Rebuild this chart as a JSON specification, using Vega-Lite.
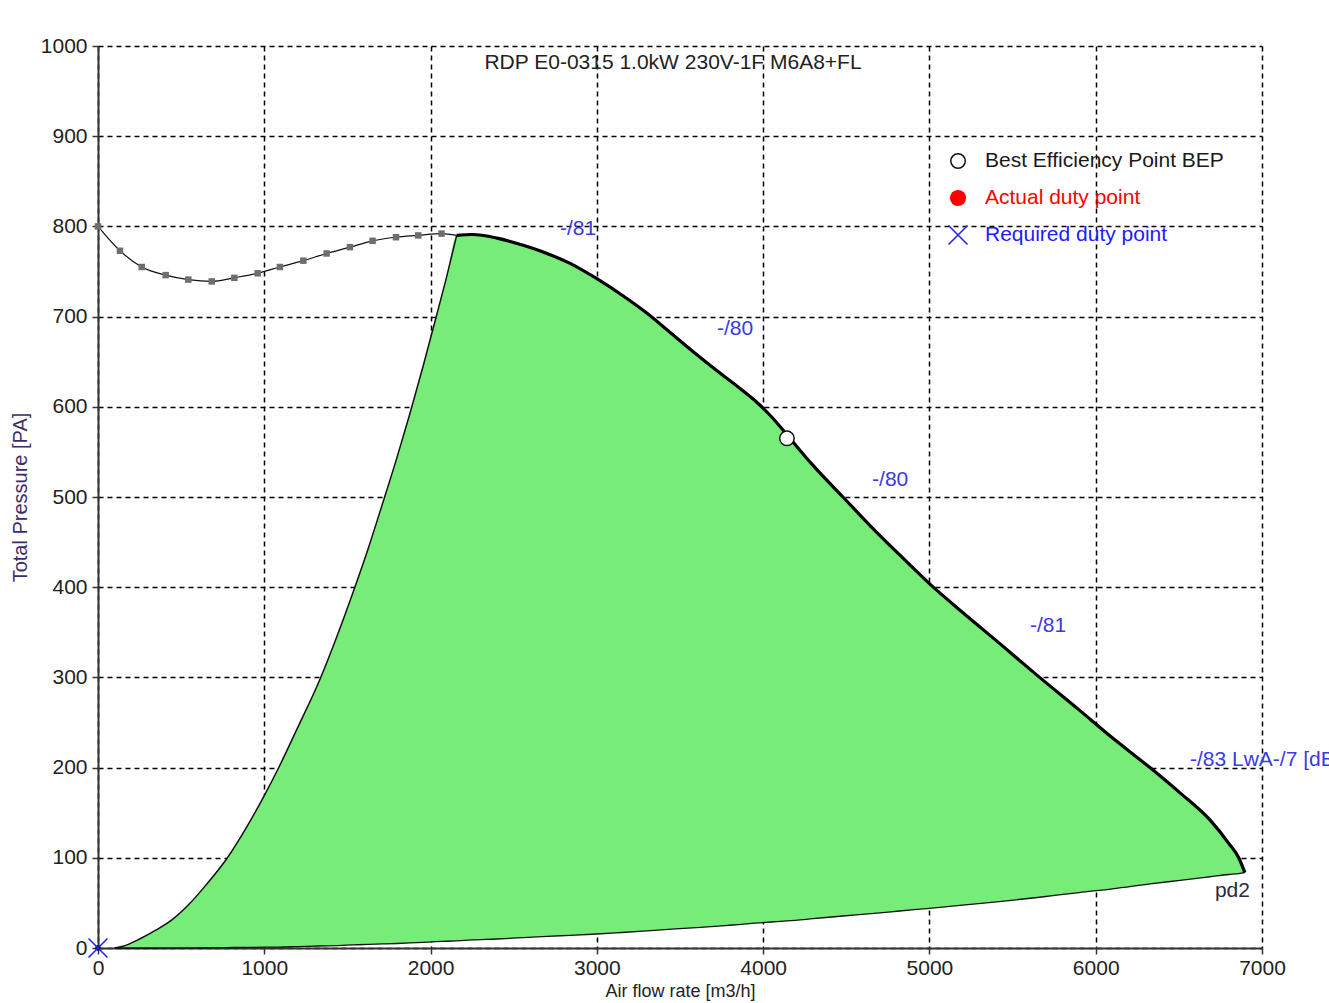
{
  "$schema": "https://vega.github.io/schema/vega-lite/v6.json",
  "width": 1164,
  "height": 902,
  "autosize": {"type": "none"},
  "padding": {"left": 98, "top": 46, "right": 67, "bottom": 55},
  "background": "white",
  "config": {
    "view": {"stroke": null},
    "font": "Liberation Sans",
    "axis": {
      "grid": true,
      "gridColor": "#000000",
      "gridDash": [5, 4],
      "gridWidth": 1.5,
      "gridOpacity": 1,
      "domainColor": "#333333",
      "domainWidth": 2,
      "tickColor": "#333333",
      "tickWidth": 1.5,
      "tickSize": 6,
      "labelFont": "Liberation Sans",
      "labelFontSize": 21,
      "labelColor": "#222222",
      "labelFlush": false,
      "labelOverlap": false,
      "titleFont": "Liberation Sans",
      "titleFontWeight": "normal",
      "zindex": 1
    }
  },
  "datasets": {
    "region": [
      {"q": 100, "top": 0, "bottom": 0},
      {"q": 150, "top": 2, "bottom": 0},
      {"q": 250, "top": 10, "bottom": 0},
      {"q": 350, "top": 20, "bottom": 0},
      {"q": 450, "top": 32, "bottom": 0.1},
      {"q": 550, "top": 49, "bottom": 0.2},
      {"q": 650, "top": 70, "bottom": 0.3},
      {"q": 774, "top": 99, "bottom": 0.5},
      {"q": 900, "top": 136, "bottom": 0.7},
      {"q": 1000, "top": 169, "bottom": 0.9},
      {"q": 1084, "top": 199, "bottom": 1},
      {"q": 1200, "top": 244, "bottom": 1.5},
      {"q": 1335, "top": 298, "bottom": 2.2},
      {"q": 1440, "top": 347, "bottom": 2.7},
      {"q": 1535, "top": 395, "bottom": 3.4},
      {"q": 1625, "top": 443, "bottom": 4},
      {"q": 1710, "top": 492, "bottom": 4.5},
      {"q": 1795, "top": 542, "bottom": 5},
      {"q": 1875, "top": 592, "bottom": 5.6},
      {"q": 1955, "top": 645, "bottom": 6.3},
      {"q": 2030, "top": 697, "bottom": 7},
      {"q": 2095, "top": 743, "bottom": 7.5},
      {"q": 2157, "top": 790, "bottom": 8},
      {"q": 2250, "top": 791, "bottom": 9},
      {"q": 2400, "top": 787, "bottom": 10},
      {"q": 2557, "top": 779, "bottom": 11.5},
      {"q": 2700, "top": 770, "bottom": 13},
      {"q": 2839, "top": 759, "bottom": 14},
      {"q": 3000, "top": 742, "bottom": 15.5},
      {"q": 3150, "top": 724, "bottom": 17.2},
      {"q": 3300, "top": 704, "bottom": 19},
      {"q": 3450, "top": 681, "bottom": 21},
      {"q": 3600, "top": 658, "bottom": 22.5},
      {"q": 3750, "top": 636, "bottom": 24.5},
      {"q": 3850, "top": 622, "bottom": 26},
      {"q": 3950, "top": 607, "bottom": 27.5},
      {"q": 4050, "top": 589, "bottom": 28.8},
      {"q": 4143, "top": 569, "bottom": 30},
      {"q": 4300, "top": 535, "bottom": 32.5},
      {"q": 4480, "top": 500, "bottom": 35.5},
      {"q": 4650, "top": 467, "bottom": 38},
      {"q": 4820, "top": 436, "bottom": 41},
      {"q": 5000, "top": 404, "bottom": 44},
      {"q": 5200, "top": 372, "bottom": 47.5},
      {"q": 5420, "top": 338, "bottom": 51.5},
      {"q": 5650, "top": 302, "bottom": 56},
      {"q": 5900, "top": 264, "bottom": 61.5},
      {"q": 6100, "top": 233, "bottom": 65.5},
      {"q": 6326, "top": 200, "bottom": 71},
      {"q": 6507, "top": 172, "bottom": 75},
      {"q": 6687, "top": 142, "bottom": 79},
      {"q": 6800, "top": 116, "bottom": 81.5},
      {"q": 6860, "top": 100, "bottom": 82.5},
      {"q": 6897, "top": 83.5, "bottom": 83.5}
    ],
    "stall": [
      {"q": 0, "p": 800, "m": 1},
      {"q": 132, "p": 773, "m": 1},
      {"q": 263, "p": 755, "m": 1},
      {"q": 407, "p": 746, "m": 1},
      {"q": 543, "p": 741, "m": 1},
      {"q": 684, "p": 739, "m": 1},
      {"q": 820, "p": 743, "m": 1},
      {"q": 960, "p": 748, "m": 1},
      {"q": 1094, "p": 755, "m": 1},
      {"q": 1235, "p": 762, "m": 1},
      {"q": 1375, "p": 770, "m": 1},
      {"q": 1515, "p": 777, "m": 1},
      {"q": 1651, "p": 784, "m": 1},
      {"q": 1792, "p": 788, "m": 1},
      {"q": 1926, "p": 790, "m": 1},
      {"q": 2066, "p": 792, "m": 1},
      {"q": 2157, "p": 790, "m": 0}
    ],
    "markers": [
      {"q": 4143, "p": 565, "kind": "bep"},
      {"q": 5172, "p": 872.5, "kind": "bep"},
      {"q": 5172, "p": 831.5, "kind": "actual"},
      {"q": 5172, "p": 790.5, "kind": "required"},
      {"q": 0, "p": 0, "kind": "required"},
      {"q": 0, "p": 0, "kind": "origin"}
    ],
    "notes": [
      {"q": 3458, "p": 981, "text": "RDP E0-0315 1.0kW 230V-1F M6A8+FL", "kind": "title"},
      {"q": 5334, "p": 872.5, "text": "Best Efficiency Point BEP", "kind": "legend-bep"},
      {"q": 5334, "p": 831.5, "text": "Actual duty point", "kind": "legend-actual"},
      {"q": 5334, "p": 790.5, "text": "Required duty point", "kind": "legend-required"},
      {"q": 2778, "p": 797, "text": "-/81", "kind": "sound"},
      {"q": 3722, "p": 686, "text": "-/80", "kind": "sound"},
      {"q": 4655, "p": 519, "text": "-/80", "kind": "sound"},
      {"q": 5605, "p": 357, "text": "-/81", "kind": "sound"},
      {"q": 6567, "p": 208, "text": "-/83  LwA-/7 [dB(A)]", "kind": "sound"},
      {"q": 6717, "p": 63, "text": "pd2", "kind": "pd"}
    ]
  },
  "encoding": {
    "x": {
      "field": "q",
      "type": "quantitative",
      "scale": {"domain": [0, 7000], "nice": false, "zero": false},
      "axis": {
        "values": [0, 1000, 2000, 3000, 4000, 5000, 6000, 7000],
        "format": "d",
        "title": "Air flow rate [m3/h]",
        "titleFontSize": 18,
        "titleColor": "#222222",
        "titlePadding": 4,
        "labelPadding": 3
      }
    },
    "y": {
      "field": "p",
      "type": "quantitative",
      "scale": {"domain": [0, 1000], "nice": false, "zero": false},
      "axis": {
        "values": [0, 100, 200, 300, 400, 500, 600, 700, 800, 900, 1000],
        "format": "d",
        "title": "Total Pressure [PA]",
        "titleFontSize": 20,
        "titleColor": "#3c2c6c",
        "titlePadding": 10,
        "labelPadding": 5
      }
    }
  },
  "layer": [
    {
      "data": {"name": "region"},
      "mark": {"type": "area", "color": "#78ec78", "opacity": 1, "interpolate": "monotone"},
      "encoding": {
        "y": {"field": "top", "type": "quantitative"},
        "y2": {"field": "bottom"}
      }
    },
    {
      "data": {"name": "region"},
      "mark": {"type": "line", "color": "#111111", "strokeWidth": 1.3, "interpolate": "monotone"},
      "encoding": {"y": {"field": "bottom", "type": "quantitative"}}
    },
    {
      "data": {"name": "region"},
      "transform": [{"filter": "datum.q <= 2157"}],
      "mark": {"type": "line", "color": "#111111", "strokeWidth": 1.5, "interpolate": "monotone"},
      "encoding": {"y": {"field": "top", "type": "quantitative"}}
    },
    {
      "data": {"name": "region"},
      "transform": [{"filter": "datum.q >= 2157"}],
      "mark": {"type": "line", "color": "#000000", "strokeWidth": 3.2, "interpolate": "monotone"},
      "encoding": {"y": {"field": "top", "type": "quantitative"}}
    },
    {
      "data": {"name": "stall"},
      "mark": {"type": "line", "color": "#111111", "strokeWidth": 1.2, "interpolate": "monotone"},
      "encoding": {}
    },
    {
      "data": {"name": "stall"},
      "transform": [{"filter": "datum.m == 1"}],
      "mark": {"type": "point", "shape": "square", "filled": true, "color": "#6e6e6e", "size": 42, "opacity": 1},
      "encoding": {}
    },
    {
      "data": {"name": "markers"},
      "transform": [{"filter": "datum.kind == 'bep'"}],
      "mark": {"type": "point", "shape": "circle", "filled": true, "fill": "white", "stroke": "#111111", "strokeWidth": 1.5, "size": 210, "opacity": 1},
      "encoding": {}
    },
    {
      "data": {"name": "markers"},
      "transform": [{"filter": "datum.kind == 'actual'"}],
      "mark": {"type": "point", "shape": "circle", "filled": true, "color": "#ff0000", "size": 260, "opacity": 1},
      "encoding": {}
    },
    {
      "data": {"name": "markers"},
      "transform": [{"filter": "datum.kind == 'origin'"}],
      "mark": {"type": "point", "shape": "circle", "filled": true, "color": "#000000", "size": 30, "opacity": 1},
      "encoding": {}
    },
    {
      "data": {"name": "markers"},
      "transform": [{"filter": "datum.kind == 'required'"}],
      "mark": {"type": "point", "shape": "M-1,-1L1,1M-1,1L1,-1", "filled": false, "stroke": "#2424ff", "strokeWidth": 1.6, "size": 360, "opacity": 1},
      "encoding": {}
    },
    {
      "data": {"name": "notes"},
      "transform": [{"filter": "datum.kind == 'title'"}],
      "mark": {"type": "text", "align": "center", "baseline": "middle", "fontSize": 21, "color": "#222222"},
      "encoding": {"text": {"field": "text"}}
    },
    {
      "data": {"name": "notes"},
      "transform": [{"filter": "datum.kind != 'title'"}],
      "mark": {"type": "text", "align": "left", "baseline": "middle", "fontSize": 21},
      "encoding": {
        "text": {"field": "text"},
        "color": {
          "field": "kind",
          "type": "nominal",
          "legend": null,
          "scale": {
            "domain": ["legend-bep", "legend-actual", "legend-required", "sound", "pd"],
            "range": ["#1a1a1a", "#ff0000", "#2020ff", "#3a3ae0", "#2a2a40"]
          }
        }
      }
    }
  ]
}
